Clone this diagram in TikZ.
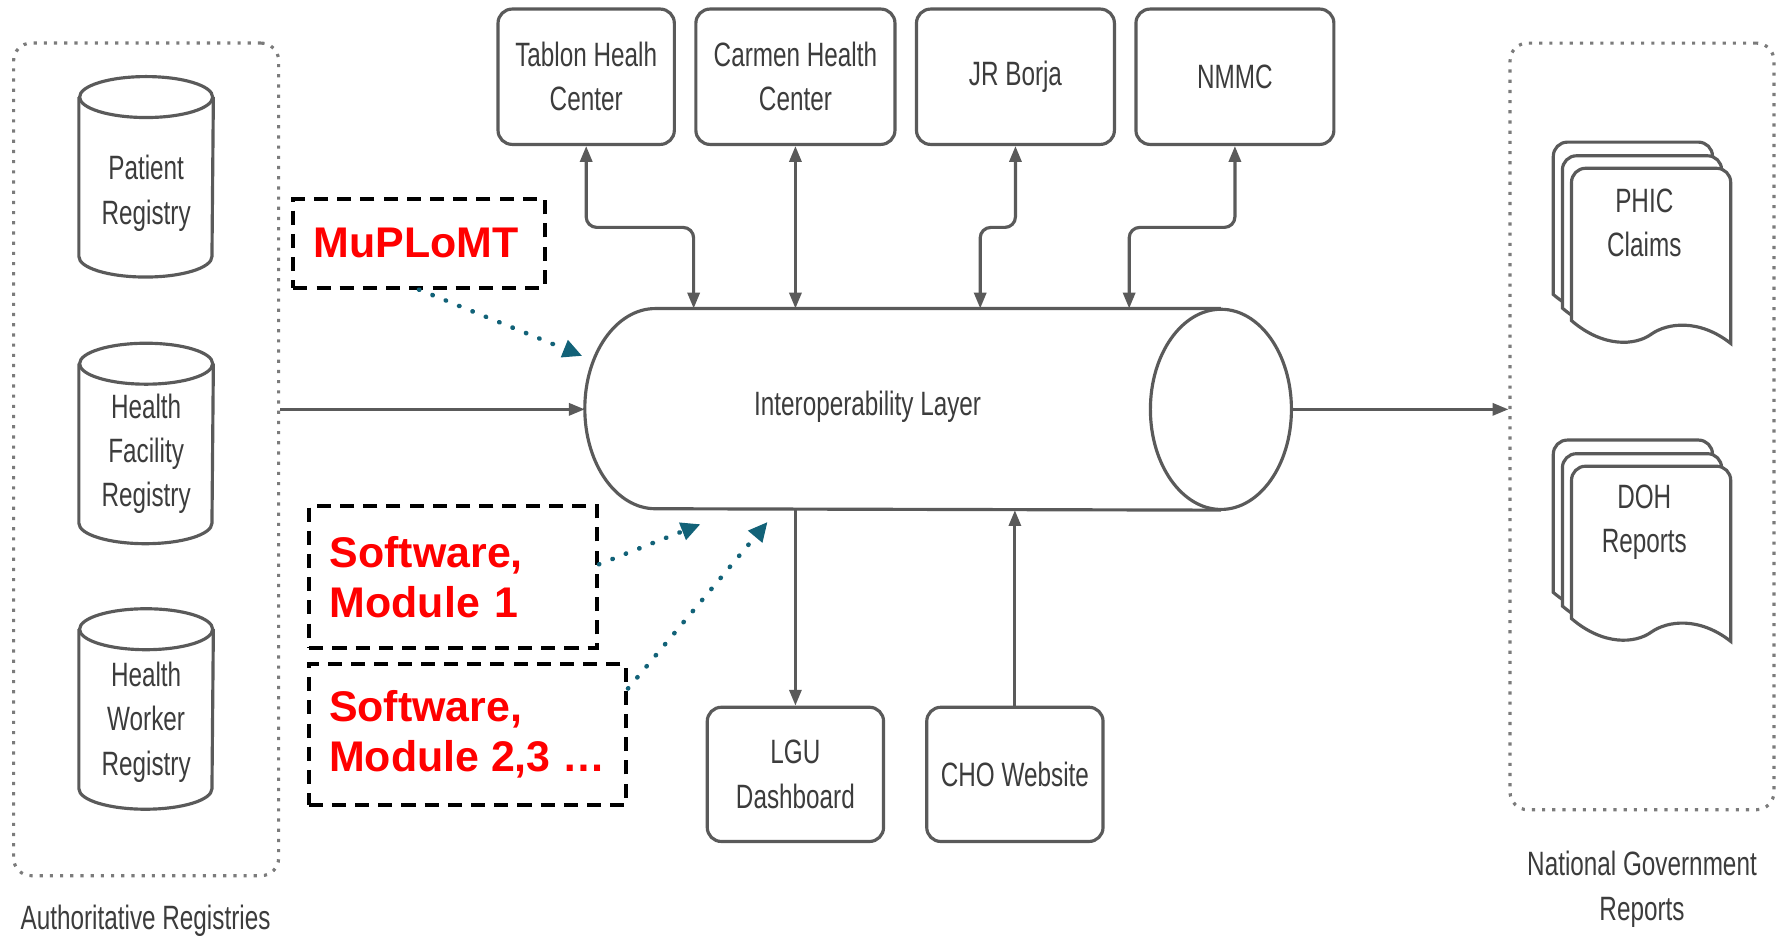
\documentclass[tikz,border=0pt]{standalone}
\usepackage{fontspec}
\setmainfont{Liberation Sans}
\newfontfamily\chartfont[FakeStretch=0.72]{Liberation Sans}
\usetikzlibrary{
	calc,
	arrows.meta,
	shapes.geometric,
	positioning,
}
\definecolor{linegray}{RGB}{90,90,90}
\definecolor{textgray}{RGB}{60,60,60}
\definecolor{tealdot}{RGB}{18,98,120}
\tikzset{
	box/.style={draw=linegray, line width=0.9pt, rounded corners=4pt, fill=white, inner sep=0pt,
		font=\chartfont\fontsize{9.6}{12.6}\selectfont, text=textgray, align=center},
	can/.style={inner sep=0pt, minimum width=1.3304cm, minimum height=1.99cm},
	pipeline/.style={draw=linegray, line width=0.9pt},
	regionbox/.style={draw=linegray!80, line width=0.9pt, dotted, rounded corners=5pt},
	plain/.style={font=\chartfont\fontsize{9.6}{12.6}\selectfont, text=textgray, align=center},
	tag/.style={draw=black, line width=1.1pt, dash pattern=on 4pt off 2.6pt, inner xsep=0.2047cm,
		font=\bfseries\fontsize{12.2}{14.2}\selectfont, text=red, align=left},
	flow/.style={draw=linegray, line width=0.9pt, rounded corners=3pt},
	hint/.style={draw=tealdot, line width=1.3pt, dash pattern=on 0.1pt off 4pt, line cap=round,
		-{Triangle[length=5.5pt,width=5pt]}},
	sheet/.style={draw=linegray, line width=0.9pt, fill=white},
	>={Triangle[length=4.5pt,width=3.4pt]},
}
% database can round a named node
\newcommand\drawcan[1]{%
	\draw[pipeline] ([yshift=-0.2047cm]#1.north) ellipse [x radius=0.6652cm, y radius=0.2047cm];
	\draw[pipeline] ([yshift=-0.2047cm]#1.north west) -- ([yshift=0.2047cm]#1.south west)
		arc[start angle=180, end angle=360, x radius=0.6652cm, y radius=0.2047cm]
		-- ([yshift=-0.2047cm]#1.north east);}
% one page of a stacked report
\newcommand\docsheet[2]{%
	\filldraw[sheet] (#1,#2+134) [rounded corners=4pt] -- (#1,#2) -- (#1+140,#2) [sharp corners]
		-- (#1+140,#2+154) .. controls (#1+112,#2+132) and (#1+84,#2+136) .. (#1+70,#2+146)
		.. controls (#1+56,#2+156) and (#1+28,#2+158) .. cycle;}
\newcommand\docstack[2]{%
	\docsheet{#1-16}{#2-23}
	\docsheet{#1-8}{#2-11}
	\docsheet{#1}{#2}}

\begin{document}
\begin{tikzpicture}[x=0.011371cm, y=-0.011371cm]
\useasboundingbox (0,0) rectangle (1568,826);

% authoritative registries
\node[regionbox, minimum width=2.6494cm, minimum height=8.3236cm] (leftbox) at (128.5,404) {};
\node[can] (patreg) at (128.5,155.5) {};
\node[can] (facreg) at (128.5,390) {};
\node[can] (wkrreg) at (128.5,623.5) {};
\drawcan{patreg}
\drawcan{facreg}
\drawcan{wkrreg}
\node[plain] (patlbl) at (128.5,170) {Patient\\Registry};
\node[plain] (faclbl) at (128.5,399) {Health\\Facility\\Registry};
\node[plain] (wkrlbl) at (128.5,635) {Health\\Worker\\Registry};
\node[plain] (authlbl) at (128,810) {Authoritative Registries};

% health facilities
\node[box, minimum width=1.7625cm, minimum height=1.3531cm] (tablon) at (515.5,67.5) {Tablon Healh\\Center};
\node[box, minimum width=1.99cm, minimum height=1.3531cm] (carmen) at (699.5,67.5) {Carmen Health\\Center};
\node[box, minimum width=1.9786cm, minimum height=1.3531cm] (jrb) at (893,67.5) {JR Borja};
\node[box, minimum width=1.9786cm, minimum height=1.3531cm] (nmmc) at (1086,67.5) {NMMC};

% interoperability layer
\node[inner sep=0pt, minimum width=7.05cm, minimum height=2.0013cm] (layer) at (825,360) {};
\draw[pipeline] ([xshift=-0.705cm]layer.north east) -- ([xshift=0.705cm]layer.north west)
	arc[start angle=90, end angle=270, x radius=0.705cm, y radius=1.0006cm]
	-- ([xshift=-0.705cm]layer.south east);
\draw[pipeline] ([xshift=-0.705cm]layer.east) ellipse [x radius=0.705cm, y radius=1.0006cm];
\node[plain] (layerlbl) at (763,357.5) {Interoperability Layer};

% outputs
\node[box, minimum width=1.7625cm, minimum height=1.3418cm] (lgu) at (699.5,681) {LGU\\Dashboard};
\node[box, minimum width=1.7625cm, minimum height=1.3418cm] (cho) at (892.5,681) {CHO Website};

% national government reports
\node[regionbox, minimum width=2.638cm, minimum height=7.664cm] (rightbox) at (1444,375) {};
\docstack{1382}{148}
\docstack{1382}{410}
\node[plain] (phic) at (1446,196) {PHIC\\Claims};
\node[plain] (doh) at (1446,459) {DOH\\Reports};
\node[plain] (natlbl) at (1444,782) {National Government\\Reports};

% links
\coordinate (t1) at (610,200);
\coordinate (t3) at (862,200);
\coordinate (t4) at (993,200);
\draw[flow,<->] (tablon.south) |- (t1) -- (t1 |- layer.north);
\draw[flow,<->] (carmen.south) -- (carmen.south |- layer.north);
\draw[flow,<->] (jrb.south) |- (t3) -- (t3 |- layer.north);
\draw[flow,<->] (nmmc.south) |- (t4) -- (t4 |- layer.north);
\draw[flow,->] (layer.south -| lgu.north) -- (lgu.north);
\draw[flow,->] (cho.north) -- (cho.north |- layer.south);
\draw[flow,->] (leftbox.east |- layer.west) -- (layer.west);
\draw[flow,->] (layer.east) -- (rightbox.west |- layer.east);

% software modules
\node[tag, text width=2.104cm, minimum height=0.887cm] (mup) at (368.5,214) {MuPLoMT};
\node[tag, text width=2.4675cm, minimum height=1.421cm] (mod1) at (398.5,507.5) {Software,\\Module 1};
\node[tag, minimum width=3.161cm, minimum height=1.41cm] (mod2) at (411,646) {Software,\\Module 2,3 …};
\coordinate (h1) at (512,313);
\coordinate (h2) at (616,461);
\coordinate (h3) at (675,459);
\draw[hint] (mup.south) -- (h1);
\draw[hint] (mod1.5) -- (h2);
\draw[hint] (mod2.16) -- (h3);
\end{tikzpicture}
\end{document}
